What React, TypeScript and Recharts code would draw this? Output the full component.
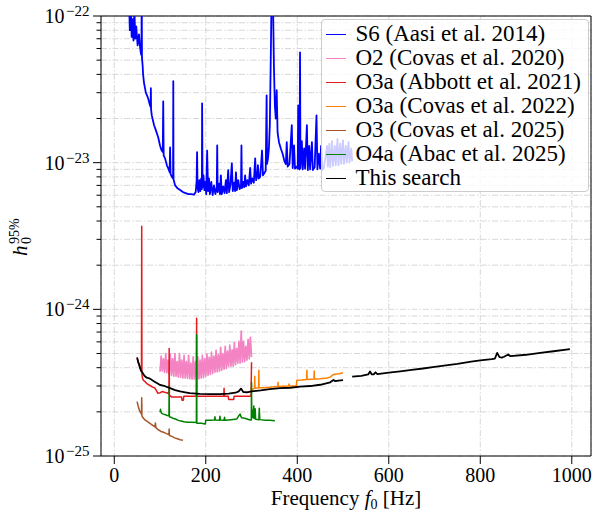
import { LineChart, Line, XAxis, YAxis, CartesianGrid, ReferenceArea } from 'recharts';

const W = 594;
const H = 513;
const SERIF = "'Liberation Serif', 'Times New Roman', serif";

// [frequency Hz, h0 upper limit]
const S6: [number, number][] = [
  [32, 1.4e-22], [34, 8.0e-23], [36, 1.3e-22], [38, 7.2e-23], [40, 9.5e-23], [42, 6.8e-23],
  [44, 1.1e-22], [46, 7.0e-23], [48, 8.5e-23], [51, 6.3e-23], [54, 7.5e-23], [56, 6.3e-23],
  [58, 5.6e-23], [59.5, 5.4e-23], [60, 2e-22], [60.5, 5.2e-23], [62, 4.6e-23], [63, 4.0e-23],
  [65, 3.5e-23], [69, 3.0e-23], [74, 2.75e-23], [78, 2.46e-23], [79.5, 2.4e-23], [80, 3.22e-23],
  [80.5, 2.3e-23], [82, 2.1e-23], [87, 1.8e-23], [91, 1.66e-23], [96, 1.49e-23], [100, 1.31e-23],
  [103, 1.22e-23], [106, 1.18e-23], [107, 2.62e-23], [108, 1.12e-23], [111, 1.07e-23], [115, 9.6e-24],
  [119, 9.0e-24], [121, 8.6e-24], [122, 1.27e-23], [123, 8.4e-24], [126, 8.0e-24], [128.5, 7.8e-24],
  [129, 3.59e-23], [129.5, 7.7e-24], [133, 7.0e-24], [138, 6.7e-24], [144, 6.5e-24], [150, 6.3e-24],
  [156, 6.2e-24], [162, 6.1e-24], [168, 6.1e-24], [174, 6.05e-24], [178, 6.3e-24], [180, 7.5e-24],
  [181, 1.18e-23], [182, 6.8e-24], [184, 6.3e-24], [186, 7.6e-24], [188, 6.4e-24], [190, 7.8e-24],
  [191.5, 6.6e-24], [192, 2.54e-23], [193, 6.8e-24], [195, 8.2e-24], [197, 6.5e-24], [199, 7.4e-24],
  [201, 6.1e-24], [203, 1.21e-23], [205, 6.4e-24], [207, 7.8e-24], [209, 6.1e-24], [212, 7.4e-24],
  [215, 6.0e-24], [218, 7.0e-24], [221, 6.1e-24], [224, 6.8e-24], [225, 1.31e-23], [226, 6.3e-24],
  [229, 7.2e-24], [231, 6.1e-24], [233, 8.2e-24], [235, 6.1e-24], [238, 6.9e-24], [241, 6.2e-24],
  [244, 7.6e-24], [246, 6.2e-24], [249, 8.9e-24], [251, 6.3e-24], [254, 7.1e-24], [257, 9.9e-24],
  [259, 6.4e-24], [262, 7.3e-24], [264, 6.4e-24], [266, 8.6e-24], [268, 6.5e-24], [271, 7.6e-24],
  [274, 6.6e-24], [277, 7.0e-24], [278, 1.31e-23], [279, 6.7e-24], [282, 7.4e-24], [284, 6.8e-24],
  [286, 8.2e-24], [288, 6.9e-24], [291, 7.6e-24], [294, 7.0e-24], [297, 9.2e-24], [299, 7.2e-24],
  [302, 7.8e-24], [305, 7.3e-24], [308, 1.07e-23], [310, 7.6e-24], [313, 8.2e-24], [314, 9.6e-24],
  [316, 7.8e-24], [319, 8.0e-24], [323, 1.21e-23], [325, 8.2e-24], [329, 8.6e-24], [331, 8.8e-24],
  [333, 2.88e-23], [334, 9.8e-24], [336, 1.07e-23], [338, 1.25e-23], [340, 1.8e-23], [342, 5.0e-23],
  [344, 1.5e-22], [346, 2.0e-22], [347, 1.2e-22], [349, 4.5e-23], [351, 2.46e-23], [353, 2.0e-23],
  [355, 3.12e-23], [357, 1.6e-23], [360, 1.38e-23], [364, 1.25e-23], [368, 1.15e-23], [372, 1.02e-23],
  [375, 9.8e-24], [377, 1.38e-23], [379, 9.4e-24], [383, 9.8e-24], [388, 1.8e-23], [390, 9.2e-24],
  [393, 1.31e-23], [395, 9.1e-24], [398, 9.4e-24], [401, 9.1e-24], [402, 2.46e-23], [403, 9.4e-24],
  [405, 9.0e-24], [406, 5.65e-23], [407, 9.2e-24], [410, 1.4e-23], [412, 9.0e-24], [415, 1.25e-23],
  [417, 9.1e-24], [421, 1.8e-23], [423, 8.9e-24], [426, 1.3e-23], [428, 9.0e-24], [432, 1.38e-23],
  [434, 8.9e-24], [438, 9.3e-24], [442, 2.1e-23], [444, 9.0e-24], [447, 1.15e-23], [450, 9.1e-24],
  [452, 1.3e-23], [455, 8.9e-24], [458, 9.2e-24], [461, 1.05e-23], [465, 1.3e-23], [467, 9.4e-24],
  [470, 1.35e-23], [472, 9.3e-24], [476, 1.4e-23], [478, 9.5e-24], [482, 1.3e-23], [484, 9.6e-24],
  [488, 1.45e-23], [490, 9.6e-24], [494, 1.35e-23], [496, 9.8e-24], [500, 1.42e-23], [502, 9.8e-24],
  [506, 1.3e-23], [508, 1.0e-23], [512, 1.38e-23], [514, 1.0e-23], [518, 1.25e-23], [520, 1.02e-23],
];

const O2: [number, number][] = [
  [100, 3.75e-25], [102.5, 4.8e-25], [105, 3.8e-25], [107.5, 4.6e-25], [110, 3.72e-25], [112.5, 5.0e-25],
  [115, 3.7e-25], [117.5, 4.5e-25], [120, 3.6e-25], [122.5, 4.95e-25], [125, 3.55e-25], [127.5, 4.6e-25],
  [130, 3.5e-25], [132.5, 5.0e-25], [135, 3.5e-25], [137.5, 4.4e-25], [140, 3.45e-25], [142.5, 5.0e-25],
  [145, 3.45e-25], [147.5, 4.5e-25], [150, 3.4e-25], [152.5, 4.85e-25], [155, 3.4e-25], [157.5, 4.4e-25],
  [160, 3.39e-25], [162.5, 4.85e-25], [165, 3.36e-25], [167.5, 4.3e-25], [170, 3.34e-25], [172.5, 4.75e-25],
  [175, 3.35e-25], [177.5, 4.4e-25], [180, 3.34e-25], [182.5, 4.75e-25], [185, 3.36e-25], [187.5, 4.5e-25],
  [190, 3.4e-25], [192.5, 4.85e-25], [195, 3.42e-25], [197.5, 4.6e-25], [200, 3.5e-25], [202.5, 4.95e-25],
  [205, 3.55e-25], [207.5, 4.7e-25], [210, 3.6e-25], [212.5, 5.1e-25], [215, 3.65e-25], [217.5, 4.8e-25],
  [220, 3.73e-25], [222.5, 5.25e-25], [225, 3.75e-25], [227.5, 4.9e-25], [230, 3.79e-25], [232.5, 5.5e-25],
  [235, 3.85e-25], [237.5, 5.0e-25], [240, 3.91e-25], [242.5, 5.6e-25], [245, 3.95e-25], [247.5, 5.2e-25],
  [250, 4.1e-25], [252.5, 5.7e-25], [255, 4.1e-25], [257.5, 5.3e-25], [260, 4.1e-25], [262.5, 5.95e-25],
  [265, 4.2e-25], [267.5, 5.4e-25], [270, 4.29e-25], [272.5, 6.05e-25], [275, 4.3e-25], [277.5, 7.1e-25],
  [280, 4.36e-25], [282.5, 6.05e-25], [285, 4.4e-25], [287.5, 5.6e-25], [290, 4.5e-25], [292.5, 6.25e-25],
  [295, 4.6e-25], [297.5, 6.45e-25], [300, 4.72e-25],
];

const O3A_ABBOTT: [number, number][] = [
  [50, 4.65e-25], [52, 4.4e-25], [55, 4.1e-25], [58, 3.85e-25], [59.5, 3.75e-25], [60, 3.68e-24],
  [60.5, 3.6e-25], [62, 3.35e-25], [65, 3.25e-25], [68, 3.2e-25], [72, 3.1e-25], [76, 3.05e-25],
  [80, 3.0e-25], [84, 2.95e-25], [88, 2.92e-25], [92, 2.8e-25], [95, 2.68e-25], [100, 2.7e-25],
  [105, 2.75e-25], [110, 2.72e-25], [115, 2.7e-25], [119.5, 2.65e-25], [120, 5.4e-25], [120.5, 2.6e-25],
  [125, 2.53e-25], [140, 2.53e-25], [147, 2.53e-25], [148, 2.4e-25], [151, 2.4e-25], [152, 2.55e-25],
  [179.5, 2.55e-25], [180, 8.7e-25], [180.5, 2.55e-25], [200, 2.56e-25], [239.5, 2.56e-25], [240, 2.9e-25],
  [240.5, 2.56e-25], [249, 2.56e-25], [250, 2.43e-25], [261, 2.43e-25], [262, 2.56e-25], [298, 2.56e-25],
  [299, 2.6e-25], [300, 4.36e-25],
];

const O3A_COVAS: [number, number][] = [
  [300, 2.81e-25], [303, 2.86e-25], [306.5, 2.9e-25], [307, 3.5e-25], [307.5, 2.9e-25], [315.5, 2.92e-25],
  [316, 3.85e-25], [316.5, 2.92e-25], [330, 2.92e-25], [345, 2.95e-25], [357.5, 2.98e-25], [358, 3.18e-25],
  [358.5, 2.98e-25], [381.5, 3.0e-25], [382, 3.1e-25], [382.5, 3.0e-25], [398, 3.0e-25], [399, 3.29e-25],
  [410, 3.3e-25], [420.5, 3.32e-25], [421, 3.85e-25], [421.5, 3.32e-25], [436.5, 3.35e-25], [437, 3.8e-25],
  [437.5, 3.35e-25], [450, 3.36e-25], [465, 3.4e-25], [472, 3.45e-25], [478, 3.58e-25], [485, 3.62e-25],
  [492, 3.64e-25], [500, 3.69e-25],
];

const O3_COVAS: [number, number][] = [
  [50, 2.35e-25], [52, 2.2e-25], [55, 2.05e-25], [58, 1.97e-25], [59.5, 1.93e-25], [60, 2.5e-25],
  [60.5, 1.88e-25], [63, 1.82e-25], [67, 1.76e-25], [72, 1.72e-25], [78, 1.67e-25], [84, 1.62e-25],
  [89, 1.58e-25], [90, 1.68e-25], [91, 1.56e-25], [96, 1.51e-25], [102, 1.47e-25], [108, 1.45e-25],
  [114, 1.42e-25], [119.5, 1.4e-25], [120, 1.53e-25], [120.5, 1.38e-25], [126, 1.36e-25], [132, 1.33e-25],
  [138, 1.31e-25], [144, 1.29e-25], [150, 1.28e-25],
];

const O4A: [number, number][] = [
  [100, 1.99e-25], [101, 2.08e-25], [103, 1.96e-25], [107, 1.93e-25], [112, 1.91e-25], [116, 1.89e-25],
  [119.5, 1.88e-25], [120, 3.0e-25], [120.5, 1.85e-25], [125, 1.83e-25], [130, 1.8e-25], [135, 1.78e-25],
  [140, 1.75e-25], [146, 1.73e-25], [152, 1.71e-25], [160, 1.7e-25], [170, 1.7e-25], [179.5, 1.69e-25],
  [180, 6.7e-25], [180.5, 1.67e-25], [190, 1.67e-25], [199, 1.65e-25], [200, 1.75e-25], [210, 1.75e-25],
  [219, 1.76e-25], [220, 1.85e-25], [221, 1.76e-25], [230, 1.75e-25], [231, 1.87e-25], [232, 1.76e-25],
  [240, 1.75e-25], [241, 1.84e-25], [242, 1.75e-25], [255, 1.77e-25], [268, 1.79e-25], [272, 1.88e-25],
  [275, 1.93e-25], [278, 1.82e-25], [285, 1.81e-25], [297, 1.76e-25], [299.5, 1.76e-25], [300, 3.18e-25],
  [300.5, 1.9e-25], [302, 2.05e-25], [303, 1.82e-25], [305, 2.19e-25], [306, 1.8e-25], [308, 2.1e-25],
  [309, 1.78e-25], [316, 1.77e-25], [317, 2.12e-25], [318, 1.77e-25], [330, 1.75e-25], [340, 1.75e-25],
  [351, 1.74e-25],
];

const THIS_SEARCH: [number, number | null][] = [
  [50, 4.7e-25], [52, 4.4e-25], [56, 4.05e-25], [58, 3.85e-25], [61, 3.73e-25], [65, 3.56e-25],
  [67, 3.5e-25], [71, 3.42e-25], [78, 3.37e-25], [84, 3.27e-25], [89, 3.2e-25], [95, 3.12e-25],
  [100, 3.05e-25], [111, 2.99e-25], [122, 2.9e-25], [133, 2.81e-25], [144, 2.76e-25], [155, 2.72e-25],
  [165, 2.68e-25], [187, 2.65e-25], [210, 2.64e-25], [230, 2.64e-25], [250, 2.66e-25], [265, 2.7e-25],
  [272, 2.76e-25], [277, 2.88e-25], [282, 2.73e-25], [290, 2.72e-25], [300, 2.76e-25], [320, 2.8e-25],
  [340, 2.86e-25], [362, 2.9e-25], [385, 2.92e-25], [406, 2.97e-25], [428, 3.0e-25], [450, 3.06e-25],
  [472, 3.18e-25], [479, 3.3e-25], [483, 3.24e-25], [490, 3.27e-25], [500, 3.29e-25], [510, null],
  [520, 3.48e-25], [540, 3.52e-25], [555, 3.6e-25], [559, 3.77e-25], [563, 3.6e-25], [567, 3.6e-25],
  [571, 3.72e-25], [575, 3.62e-25], [600, 3.7e-25], [625, 3.78e-25], [650, 3.86e-25], [675, 3.95e-25],
  [700, 4.05e-25], [725, 4.15e-25], [750, 4.25e-25], [780, 4.4e-25], [800, 4.48e-25], [825, 4.57e-25],
  [832, 4.62e-25], [837, 5.05e-25], [842, 4.72e-25], [847, 4.69e-25], [852, 4.75e-25], [861, 4.92e-25],
  [866, 4.79e-25], [900, 4.9e-25], [931, 5.05e-25], [960, 5.18e-25], [996, 5.35e-25],
];

const xTicks = [0, 200, 400, 600, 800, 1000];
const yMajor = [1e-25, 1e-24, 1e-23, 1e-22];
const yMantissas = [2, 3, 4, 5, 6, 7, 8, 9];
const yTicks = [...yMajor, ...yMajor.slice(0, 3).flatMap((d) => yMantissas.map((m) => m * d))].sort((a, b) => a - b);

const series = [
  { name: 'S6 (Aasi et al. 2014)', color: '#0000ff', width: 1.8, data: S6 },
  { name: 'O2 (Covas et al. 2020)', color: '#f383c2', width: 1.7, data: O2 },
  { name: 'O3a (Abbott et al. 2021)', color: '#e41a1c', width: 1.5, data: O3A_ABBOTT },
  { name: 'O3a (Covas et al. 2022)', color: '#ff7f00', width: 1.5, data: O3A_COVAS },
  { name: 'O3 (Covas et al. 2025)', color: '#a65628', width: 1.5, data: O3_COVAS },
  { name: 'O4a (Abac et al. 2025)', color: '#008000', width: 1.5, data: O4A },
  { name: 'This search', color: '#000000', width: 1.8, data: THIS_SEARCH },
];

const toPoints = (rows: [number, number | null][]) => rows.map(([f, h]) => ({ f, h }));

function XTick({ x, y, payload }: any) {
  return (
    <g>
      <line x1={x} x2={x} y1={y} y2={y + 8} stroke="#000" strokeWidth={1} />
      <text x={x} y={y + 26} textAnchor="middle" fontSize={20} fontFamily={SERIF} fill="#000">
        {payload.value}
      </text>
    </g>
  );
}

function YTick({ x, y, payload }: any) {
  const v = payload.value;
  const exp = Math.round(Math.log10(v));
  const major = Math.abs(v / Math.pow(10, exp) - 1) < 1e-6;
  return (
    <g>
      <line x1={x} x2={x - (major ? 8 : 4.5)} y1={y} y2={y} stroke="#000" strokeWidth={1} />
      {major && (
        <text x={x - 11.5} y={y + 7} textAnchor="end" fontFamily={SERIF} fill="#000">
          <tspan fontSize={20}>10</tspan>
          <tspan fontSize={15} dx={1.5} dy={-7}>{'\u2212' + String(-exp)}</tspan>
        </text>
      )}
    </g>
  );
}

export default function App() {
  return (
    <div style={{ position: 'absolute', left: 0, top: 0, width: W, height: H, background: '#fff' }}>
      <LineChart width={W} height={H} margin={{ top: 16, right: 3, bottom: 7, left: 0 }}>
        <CartesianGrid stroke="#d2d2d2" strokeWidth={0.9} strokeDasharray="6 2 1.5 2" />
        <XAxis
          type="number"
          dataKey="f"
          domain={[-29, 1042]}
          ticks={xTicks}
          interval={0}
          allowDataOverflow
          tick={XTick}
          tickLine={false}
          axisLine={false}
          tickSize={0}
          tickMargin={0}
          height={50}
        />
        <YAxis
          type="number"
          scale="log"
          domain={[1e-25, 1e-22]}
          ticks={yTicks}
          interval={0}
          allowDataOverflow
          tick={YTick}
          tickLine={false}
          axisLine={false}
          tickSize={0}
          tickMargin={0}
          width={101}
        />
        {series.map((s) => (
          <Line
            key={s.name}
            data={toPoints(s.data)}
            dataKey="h"
            name={s.name}
            type="linear"
            stroke={s.color}
            strokeWidth={s.width}
            strokeLinejoin="round"
            dot={false}
            activeDot={false}
            connectNulls={false}
            isAnimationActive={false}
          />
        ))}
        <ReferenceArea x1={-29} x2={1042} y1={1e-25} y2={1e-22} fill="none" stroke="#000" strokeWidth={1} strokeOpacity={1} />
      </LineChart>

      <svg width={W} height={H} style={{ position: 'absolute', left: 0, top: 0, pointerEvents: 'none' }}>
        <text x={346} y={505} textAnchor="middle" fontFamily={SERIF} fontSize={21} fill="#000">
          <tspan>Frequency </tspan>
          <tspan fontStyle="italic">f</tspan>
          <tspan fontSize={14} dy={4}>0</tspan>
          <tspan dy={-4}> [Hz]</tspan>
        </text>
        <g transform="translate(27, 256) rotate(-90)" fontFamily={SERIF} fill="#000">
          <text x={0} y={0} fontSize={21} fontStyle="italic">h</text>
          <text x={12} y={-8} fontSize={14}>95%</text>
          <text x={12} y={4} fontSize={14}>0</text>
        </g>
      </svg>

      <div
        style={{
          position: 'absolute',
          left: 321,
          top: 19,
          width: 268,
          height: 173,
          boxSizing: 'border-box',
          border: '1px solid #cccccc',
          borderRadius: 4,
          background: 'rgba(255,255,255,0.8)',
          paddingTop: 2,
          fontFamily: SERIF,
          fontSize: 23,
          color: '#000',
        }}
      >
        {series.map((s) => (
          <div key={s.name} style={{ height: 24.07, display: 'flex', alignItems: 'center', whiteSpace: 'nowrap' }}>
            <span style={{ display: 'inline-block', width: 20, height: 0, borderTop: `1.5px solid ${s.color}`, marginLeft: 3.5, marginRight: 10 }} />
            <span style={{ lineHeight: '24px' }}>{s.name}</span>
          </div>
        ))}
      </div>
    </div>
  );
}
